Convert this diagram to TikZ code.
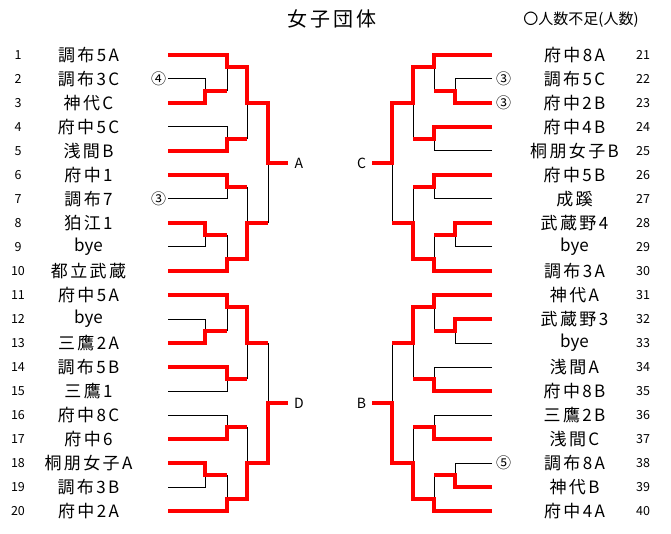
\documentclass[tikz,border=0pt]{standalone}
\usepackage{fontspec}
\setmainfont{Noto Sans CJK JP}
\newfontfamily\namefont[LetterSpace=14]{Noto Sans CJK JP}
\newfontfamily\titlefont[LetterSpace=15]{Noto Sans CJK JP}
\newcommand\byename{{\rmfamily bye}}
\begin{document}
\begin{tikzpicture}[x=1pt,y=-1pt,
  declare function={R(\k)=31+24*\k;},
  team/.style={font=\namefont\fontsize{17}{18}\selectfont,inner sep=0pt,anchor=center},
  num/.style={font=\fontsize{12.5}{14}\selectfont,inner sep=0pt,anchor=center},
  circnum/.style={font=\fontsize{15}{16}\selectfont,inner sep=0pt,anchor=center},
  blocklabel/.style={font=\fontsize{14}{16}\selectfont,inner sep=0pt,anchor=center},
  lose/.style={draw=black,line width=1pt},
  win/.style={draw=red,line width=4pt,line join=miter}]
\useasboundingbox (0,0) rectangle (671,534);
% columns
\def\ca{168}\def\cb{205}\def\cc{227}\def\cd{247}\def\ce{268}\def\cf{288}
\def\da{492}\def\db{455}\def\dc{434}\def\dd{413}\def\de{392}\def\df{372}
% titles
\node[font=\titlefont\fontsize{20}{22}\selectfont,inner sep=0pt] (title) at (331.5,18.5) {女子団体};
\node[font=\fontsize{15}{16}\selectfont,inner sep=0pt] (note) at (581,20) {〇人数不足(人数)};
% left names and numbers
\foreach \k/\t in {1/調布5A,2/調布3C,3/神代C,4/府中5C,5/浅間B,6/府中1,7/調布7,8/狛江1,9/\byename,10/都立武蔵,
  11/府中5A,12/\byename,13/三鷹2A,14/調布5B,15/三鷹1,16/府中8C,17/府中6,18/桐朋女子A,19/調布3B,20/府中2A}{
  \node[team] (t\k) at (88.5,{R(\k)}) {\t};
  \node[num] (n\k) at (18,{R(\k)}) {\k};
}
\foreach \k/\t in {21/府中8A,22/調布5C,23/府中2B,24/府中4B,25/桐朋女子B,26/府中5B,27/成蹊,28/武蔵野4,29/\byename,30/調布3A,
  31/神代A,32/武蔵野3,33/\byename,34/浅間A,35/府中8B,36/三鷹2B,37/浅間C,38/調布8A,39/神代B,40/府中4A}{
  \node[team] (t\k) at (574.5,{R(\k-20)}) {\t};
  \node[num] (n\k) at (643,{R(\k-20)}) {\k};
}
% circled numbers
\node[circnum] (c2) at (158.5,{R(2)}) {④};
\node[circnum] (c7) at (158.5,{R(7)}) {③};
\node[circnum] (c22) at (503.5,{R(2)}) {③};
\node[circnum] (c23) at (503.5,{R(3)}) {③};
\node[circnum] (c38) at (503.5,{R(18)}) {⑤};
% block labels
\node[blocklabel] (A) at (299,{R(5.5)}) {A};
\node[blocklabel] (D) at (299,{R(15.5)}) {D};
\node[blocklabel] (C) at (361.5,{R(5.5)}) {C};
\node[blocklabel] (B) at (361.5,{R(15.5)}) {B};
% ---------- left top: losers
\draw[lose] (\ca,{R(2)}) -| (\cb,{R(2.5)});
\draw[lose] (\cc,{R(2.5)}) -- (\cc,{R(1.5)});
\draw[lose] (\ca,{R(4)}) -| (\cc,{R(4.5)});
\draw[lose] (\cd,{R(4.5)}) -- (\cd,{R(3)});
\draw[lose] (\ca,{R(7)}) -| (\cc,{R(6.5)});
\draw[lose] (\ca,{R(9)}) -| (\cb,{R(8.5)});
\draw[lose] (\cc,{R(8.5)}) -- (\cc,{R(9.5)});
\draw[lose] (\cd,{R(6.5)}) -- (\cd,{R(8)});
\draw[lose] (\ce,{R(8)}) -- (\ce,{R(5.5)});
% left bottom: losers
\draw[lose] (\ca,{R(12)}) -| (\cb,{R(12.5)});
\draw[lose] (\cc,{R(12.5)}) -- (\cc,{R(11.5)});
\draw[lose] (\ca,{R(15)}) -| (\cc,{R(14.5)});
\draw[lose] (\cd,{R(14.5)}) -- (\cd,{R(13)});
\draw[lose] (\ca,{R(16)}) -| (\cc,{R(16.5)});
\draw[lose] (\ca,{R(19)}) -| (\cb,{R(18.5)});
\draw[lose] (\cc,{R(18.5)}) -- (\cc,{R(19.5)});
\draw[lose] (\cd,{R(16.5)}) -- (\cd,{R(18)});
\draw[lose] (\ce,{R(13)}) -- (\ce,{R(15.5)});
% right top: losers
\draw[lose] (\da,{R(2)}) -| (\db,{R(2.5)});
\draw[lose] (\dc,{R(2.5)}) -- (\dc,{R(1.5)});
\draw[lose] (\da,{R(5)}) -| (\dc,{R(4.5)});
\draw[lose] (\dd,{R(4.5)}) -- (\dd,{R(3)});
\draw[lose] (\da,{R(7)}) -| (\dc,{R(6.5)});
\draw[lose] (\da,{R(9)}) -| (\db,{R(8.5)});
\draw[lose] (\dc,{R(8.5)}) -- (\dc,{R(9.5)});
\draw[lose] (\dd,{R(6.5)}) -- (\dd,{R(8)});
\draw[lose] (\de,{R(8)}) -- (\de,{R(5.5)});
% right bottom: losers
\draw[lose] (\da,{R(13)}) -| (\db,{R(12.5)});
\draw[lose] (\dc,{R(12.5)}) -- (\dc,{R(11.5)});
\draw[lose] (\da,{R(14)}) -| (\dc,{R(14.5)});
\draw[lose] (\dd,{R(14.5)}) -- (\dd,{R(13)});
\draw[lose] (\da,{R(16)}) -| (\dc,{R(16.5)});
\draw[lose] (\da,{R(18)}) -| (\db,{R(18.5)});
\draw[lose] (\dc,{R(18.5)}) -- (\dc,{R(19.5)});
\draw[lose] (\dd,{R(16.5)}) -- (\dd,{R(18)});
\draw[lose] (\de,{R(13)}) -- (\de,{R(15.5)});
% ---------- left top: winners
\draw[win] (\ca,{R(1)}) -| (\cc,{R(1.5)}) -| (\cd,{R(3)}) -| (\ce,{R(5.5)}) -- (\cf,{R(5.5)});
\draw[win] (\ca,{R(3)}) -| (\cb,{R(2.5)}) -- (\cc,{R(2.5)});
\draw[win] (\ca,{R(5)}) -| (\cc,{R(4.5)}) -- (\cd,{R(4.5)});
\draw[win] (\ca,{R(6)}) -| (\cc,{R(6.5)}) -- (\cd,{R(6.5)});
\draw[win] (\ca,{R(8)}) -| (\cb,{R(8.5)}) -- (\cc,{R(8.5)});
\draw[win] (\ca,{R(10)}) -| (\cc,{R(9.5)}) -| (\cd,{R(8)}) -- (\ce,{R(8)});
% left bottom: winners
\draw[win] (\ca,{R(11)}) -| (\cc,{R(11.5)}) -| (\cd,{R(13)}) -- (\ce,{R(13)});
\draw[win] (\ca,{R(13)}) -| (\cb,{R(12.5)}) -- (\cc,{R(12.5)});
\draw[win] (\ca,{R(14)}) -| (\cc,{R(14.5)}) -- (\cd,{R(14.5)});
\draw[win] (\ca,{R(17)}) -| (\cc,{R(16.5)}) -- (\cd,{R(16.5)});
\draw[win] (\ca,{R(18)}) -| (\cb,{R(18.5)}) -- (\cc,{R(18.5)});
\draw[win] (\ca,{R(20)}) -| (\cc,{R(19.5)}) -| (\cd,{R(18)}) -| (\ce,{R(15.5)}) -- (\cf,{R(15.5)});
% right top: winners
\draw[win] (\da,{R(1)}) -| (\dc,{R(1.5)}) -| (\dd,{R(3)}) -| (\de,{R(5.5)}) -- (\df,{R(5.5)});
\draw[win] (\da,{R(3)}) -| (\db,{R(2.5)}) -- (\dc,{R(2.5)});
\draw[win] (\da,{R(4)}) -| (\dc,{R(4.5)}) -- (\dd,{R(4.5)});
\draw[win] (\da,{R(6)}) -| (\dc,{R(6.5)}) -- (\dd,{R(6.5)});
\draw[win] (\da,{R(8)}) -| (\db,{R(8.5)}) -- (\dc,{R(8.5)});
\draw[win] (\da,{R(10)}) -| (\dc,{R(9.5)}) -| (\dd,{R(8)}) -- (\de,{R(8)});
% right bottom: winners
\draw[win] (\da,{R(11)}) -| (\dc,{R(11.5)}) -| (\dd,{R(13)}) -- (\de,{R(13)});
\draw[win] (\da,{R(12)}) -| (\db,{R(12.5)}) -- (\dc,{R(12.5)});
\draw[win] (\da,{R(15)}) -| (\dc,{R(14.5)}) -- (\dd,{R(14.5)});
\draw[win] (\da,{R(17)}) -| (\dc,{R(16.5)}) -- (\dd,{R(16.5)});
\draw[win] (\da,{R(19)}) -| (\db,{R(18.5)}) -- (\dc,{R(18.5)});
\draw[win] (\da,{R(20)}) -| (\dc,{R(19.5)}) -| (\dd,{R(18)}) -| (\de,{R(15.5)}) -- (\df,{R(15.5)});
\end{tikzpicture}
\end{document}
